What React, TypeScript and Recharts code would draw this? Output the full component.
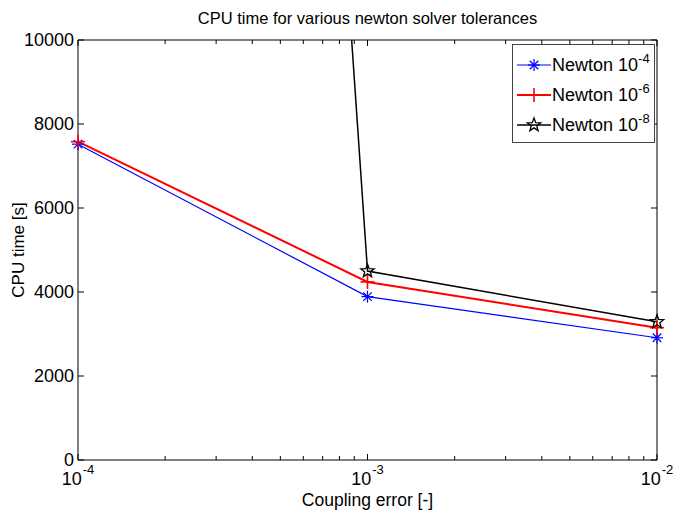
import React from "react"
import { LineChart, Line, XAxis, YAxis } from "recharts"

// coupling error (x) and CPU time [s] for each newton tolerance
const couplingError = [1e-4, 1e-3, 1e-2]
const newton4 = [7520, 3890, 2910]
const newton6 = [7580, 4240, 3150]
const newton8 = [105000, 4500, 3290]

const xMajorTicks = [1e-4, 1e-3, 1e-2]
const xMinorTicks = [
  2e-4, 3e-4, 4e-4, 5e-4, 6e-4, 7e-4, 8e-4, 9e-4,
  2e-3, 3e-3, 4e-3, 5e-3, 6e-3, 7e-3, 8e-3, 9e-3,
]
const yTicks = [0, 2000, 4000, 6000, 8000, 10000]

const seriesNames = ["Newton 10", "Newton 10", "Newton 10"]
const seriesExp = ["-4", "-6", "-8"]

const Y_MAX = 10000

const data = couplingError.map((x, i) => ({
  x,
  n4: newton4[i],
  n6: newton6[i],
  n8: newton8[i],
}))

const allXTicks = [...xMajorTicks, ...xMinorTicks].sort((a, b) => a - b)

const FONT = "'Liberation Sans', Arial, Helvetica, sans-serif"
const W = 675
const H = 516

const isMajor = (v: number) => xMajorTicks.some((m) => Math.abs(m - v) / m < 1e-6)

function BottomTick({ x, y, payload }: any) {
  const major = isMajor(payload.value)
  const exp = Math.round(Math.log10(payload.value))
  return (
    <g>
      <line x1={x} x2={x} y1={y} y2={y - (major ? 6 : 4)} stroke="#000" />
      {major && (
        <text x={x} y={y + 25} textAnchor="middle" fontFamily={FONT} fontSize={18} fill="#000">
          10
          <tspan dx={1} dy={-11} fontSize={13}>{exp}</tspan>
        </text>
      )}
    </g>
  )
}

function TopTick({ x, y, payload }: any) {
  const major = isMajor(payload.value)
  return <line x1={x} x2={x} y1={y} y2={y + (major ? 6 : 4)} stroke="#000" />
}

function LeftTick({ x, y, payload }: any) {
  return (
    <g>
      <line x1={x} x2={x + 6} y1={y} y2={y} stroke="#000" />
      <text x={x - 4} y={y + 6} textAnchor="end" fontFamily={FONT} fontSize={18} fill="#000">
        {payload.value}
      </text>
    </g>
  )
}

function RightTick({ x, y }: any) {
  return <line x1={x} x2={x - 6} y1={y} y2={y} stroke="#000" />
}

function Asterisk({ cx, cy, color }: any) {
  const r = 6
  const d = r * 0.707
  return (
    <g stroke={color} strokeWidth={1.2}>
      <line x1={cx - r} x2={cx + r} y1={cy} y2={cy} />
      <line x1={cx} x2={cx} y1={cy - r} y2={cy + r} />
      <line x1={cx - d} x2={cx + d} y1={cy - d} y2={cy + d} />
      <line x1={cx - d} x2={cx + d} y1={cy + d} y2={cy - d} />
    </g>
  )
}

function Plus({ cx, cy, color }: any) {
  const r = 7
  return (
    <g stroke={color} strokeWidth={1.6}>
      <line x1={cx - r} x2={cx + r} y1={cy} y2={cy} />
      <line x1={cx} x2={cx} y1={cy - r} y2={cy + r} />
    </g>
  )
}

function Star({ cx, cy, color }: any) {
  const outer = 7
  const inner = 2.9
  const pts: string[] = []
  for (let i = 0; i < 10; i++) {
    const r = i % 2 === 0 ? outer : inner
    const a = -Math.PI / 2 + (i * Math.PI) / 5
    pts.push(`${cx + r * Math.cos(a)},${cy + r * Math.sin(a)}`)
  }
  return <polygon points={pts.join(" ")} fill="none" stroke={color} strokeWidth={1.3} />
}

const markers = [Asterisk, Plus, Star]
const colors = ["#0000ff", "#ff0000", "#000000"]
const widths = [1.2, 2, 1.5]
const keys = ["n4", "n6", "n8"]

function LegendBox() {
  return (
    <div
      style={{
        position: "absolute",
        left: 512,
        top: 44,
        width: 141,
        height: 97,
        border: "1px solid #444",
        background: "#fff",
        fontFamily: FONT,
        fontSize: 18,
        color: "#000",
      }}
    >
      {keys.map((k, i) => {
        const M = markers[i]
        return (
          <div key={k} style={{ position: "absolute", left: 4, top: 7 + i * 30, height: 26, display: "flex", alignItems: "center" }}>
            <svg width={34} height={20} style={{ marginRight: 1 }}>
              <line x1={0} x2={34} y1={10} y2={10} stroke={colors[i]} strokeWidth={widths[i]} />
              <M cx={17} cy={10} color={colors[i]} />
            </svg>
            <span>
              {seriesNames[i]}
              <sup style={{ fontSize: 13, verticalAlign: 0, position: "relative", top: -8 }}>{seriesExp[i]}</sup>
            </span>
          </div>
        )
      })}
    </div>
  )
}

export default function App() {
  return (
    <div style={{ position: "absolute", left: 0, top: 0, width: W, height: H, background: "#fff", fontFamily: FONT }}>
      <div style={{ position: "absolute", left: 0, width: W, top: 8, textAlign: "center", paddingLeft: 60, boxSizing: "border-box", fontSize: 16.5, lineHeight: "20px" }}>
        CPU time for various newton solver tolerances
      </div>
      <div style={{ position: "absolute", left: 78, width: 579, top: 491, textAlign: "center", fontSize: 17.5, lineHeight: "18px" }}>
        Coupling error [-]
      </div>
      <div
        style={{
          position: "absolute",
          left: 19,
          top: 250,
          transform: "translate(-50%, -50%) rotate(-90deg)",
          whiteSpace: "nowrap",
          fontSize: 17,
          lineHeight: "18px",
        }}
      >
        CPU time [s]
      </div>
      <LineChart width={W} height={H} data={data} margin={{ top: 39, right: 17, bottom: 0, left: 0 }}>
        <XAxis
          dataKey="x"
          type="number"
          scale="log"
          domain={[1e-4, 1e-2]}
          ticks={allXTicks}
          interval={0}
          tick={<BottomTick />}
          tickLine={false}
          tickSize={0}
          tickMargin={0}
          height={56}
          axisLine={{ stroke: "#000" }}
        />
        <XAxis
          xAxisId="top"
          dataKey="x"
          orientation="top"
          type="number"
          scale="log"
          domain={[1e-4, 1e-2]}
          ticks={allXTicks}
          interval={0}
          tick={<TopTick />}
          tickLine={false}
          tickSize={0}
          tickMargin={0}
          height={1}
          axisLine={{ stroke: "#000" }}
        />
        <YAxis
          type="number"
          domain={[0, Y_MAX]}
          ticks={yTicks}
          interval={0}
          tick={<LeftTick />}
          tickLine={false}
          tickSize={0}
          tickMargin={0}
          width={78}
          axisLine={{ stroke: "#000" }}
        />
        <YAxis
          yAxisId="r"
          orientation="right"
          type="number"
          domain={[0, Y_MAX]}
          allowDataOverflow
          ticks={yTicks}
          interval={0}
          tick={<RightTick />}
          tickLine={false}
          tickSize={0}
          tickMargin={0}
          width={1}
          axisLine={{ stroke: "#000" }}
        />
        {/* hidden axis that clips the 10^-8 curve, which leaves the top of the plot */}
        <YAxis yAxisId="clip" hide type="number" domain={[0, Y_MAX]} allowDataOverflow />

        <Line
          dataKey="n4"
          stroke={colors[0]}
          strokeWidth={widths[0]}
          isAnimationActive={false}
          dot={(p: any) => <Asterisk key={`n4-${p.index}`} cx={p.cx} cy={p.cy} color={colors[0]} />}
          activeDot={false}
        />
        <Line
          dataKey="n6"
          stroke={colors[1]}
          strokeWidth={widths[1]}
          isAnimationActive={false}
          dot={(p: any) => <Plus key={`n6-${p.index}`} cx={p.cx} cy={p.cy} color={colors[1]} />}
          activeDot={false}
        />
        <Line
          yAxisId="clip"
          dataKey="n8"
          stroke={colors[2]}
          strokeWidth={widths[2]}
          isAnimationActive={false}
          dot={false}
          activeDot={false}
        />
        {/* markers of the 10^-8 curve, only those inside the plot, unclipped */}
        <Line
          dataKey={(d: any) => (d.n8 <= Y_MAX ? d.n8 : null)}
          stroke="none"
          isAnimationActive={false}
          dot={(p: any) =>
            p.cy == null || p.value == null ? <g key={`n8-${p.index}`} /> : <Star key={`n8-${p.index}`} cx={p.cx} cy={p.cy} color={colors[2]} />
          }
          activeDot={false}
          legendType="none"
        />
      </LineChart>
      <LegendBox />
    </div>
  )
}
